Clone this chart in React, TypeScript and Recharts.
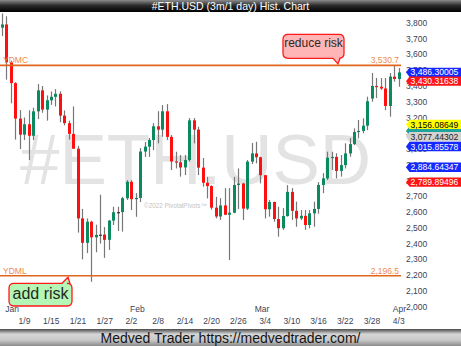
import React from "react";
import { ComposedChart, Bar, XAxis, YAxis, ReferenceLine } from "recharts";

// daily candles, 1/4 .. 4/3
const dates = [
  "1/4", "1/5", "1/6", "1/7", "1/8", "1/9", "1/10", "1/11", "1/12", "1/13", "1/14", "1/15", "1/16", "1/17",
  "1/18", "1/19", "1/20", "1/21", "1/22", "1/23", "1/24", "1/25", "1/26", "1/27", "1/28", "1/29", "1/30", "1/31",
  "2/1", "2/2", "2/3", "2/4", "2/5", "2/6", "2/7", "2/8", "2/9", "2/10", "2/11", "2/12", "2/13", "2/14",
  "2/15", "2/16", "2/17", "2/18", "2/19", "2/20", "2/21", "2/22", "2/23", "2/24", "2/25", "2/26", "2/27", "2/28",
  "3/1", "3/2", "3/3", "3/4", "3/5", "3/6", "3/7", "3/8", "3/9", "3/10", "3/11", "3/12", "3/13", "3/14",
  "3/15", "3/16", "3/17", "3/18", "3/19", "3/20", "3/21", "3/22", "3/23", "3/24", "3/25", "3/26", "3/27", "3/28",
  "3/29", "3/30", "3/31", "4/1", "4/2", "4/3",
];

const opens = [
  3770, 3790, 3550, 3418, 3193, 3091, 3157, 3084, 3239, 3372, 3250, 3309, 3331, 3350,
  3212, 3164, 3096, 3002, 2560, 2405, 2539, 2440, 2455, 2457, 2424, 2546, 2599, 2600,
  2688, 2792, 2682, 2690, 2984, 3015, 3057, 3144, 3123, 3239, 3077, 2921, 2916, 2883,
  2930, 3182, 3123, 2882, 2786, 2765, 2628, 2572, 2642, 2583, 2596, 2772, 2781, 2622,
  2920, 2972, 2948, 2834, 2618, 2664, 2556, 2498, 2575, 2728, 2608, 2560, 2576, 2518,
  2592, 2620, 2772, 2814, 2945, 2950, 2861, 2898, 2972, 3031, 3108, 3115, 3148, 3320,
  3400, 3395, 3384, 3273, 3459, 3444,
];
const highs = [
  3860, 3842, 3560, 3424, 3247, 3200, 3246, 3262, 3412, 3400, 3340, 3365, 3380, 3366,
  3245, 3180, 3270, 3020, 2620, 2560, 2545, 2520, 2710, 2505, 2550, 2634, 2634, 2697,
  2803, 2803, 2720, 3006, 3045, 3070, 3164, 3240, 3279, 3285, 3089, 2983, 2962, 2962,
  3196, 3196, 3141, 2943, 2824, 2770, 2697, 2688, 2752, 2752, 2824, 2877, 2786, 2930,
  3038, 3046, 2951, 2836, 2677, 2666, 2634, 2625, 2771, 2752, 2666, 2613, 2613, 2613,
  2666, 2790, 2847, 2983, 2983, 2973, 2962, 3036, 3070, 3131, 3184, 3195, 3332, 3482,
  3451, 3450, 3450, 3482, 3533, 3514,
];
const lows = [
  3716, 3440, 3290, 3060, 3000, 3057, 2930, 3057, 3190, 3230, 3180, 3280, 3270, 3170,
  3150, 3060, 3000, 2470, 2300, 2340, 2158, 2345, 2400, 2310, 2360, 2518, 2480, 2476,
  2677, 2613, 2570, 2664, 2950, 2950, 2994, 3036, 3078, 3057, 2867, 2877, 2825, 2835,
  2920, 3036, 2835, 2761, 2687, 2615, 2560, 2550, 2581, 2296, 2593, 2620, 2550, 2613,
  2905, 2909, 2782, 2560, 2571, 2539, 2444, 2487, 2571, 2550, 2507, 2550, 2487, 2497,
  2507, 2590, 2720, 2803, 2867, 2814, 2825, 2877, 2951, 3025, 3068, 3100, 3120, 3300,
  3323, 3375, 3247, 3205, 3427, 3395,
];
const closes = [
  3790, 3550, 3418, 3193, 3091, 3157, 3084, 3239, 3372, 3250, 3309, 3331, 3350, 3212,
  3164, 3096, 3002, 2560, 2405, 2539, 2440, 2455, 2457, 2424, 2546, 2599, 2600, 2688,
  2792, 2682, 2690, 2984, 3015, 3057, 3144, 3123, 3239, 3077, 2921, 2916, 2883, 2930,
  3182, 3123, 2882, 2786, 2765, 2628, 2572, 2642, 2583, 2596, 2772, 2781, 2622, 2920,
  2972, 2948, 2834, 2618, 2664, 2556, 2498, 2575, 2728, 2608, 2560, 2576, 2518, 2592,
  2620, 2772, 2814, 2945, 2950, 2861, 2898, 2972, 3031, 3108, 3115, 3148, 3303, 3400,
  3395, 3384, 3273, 3459, 3444, 3486,
];

const dayTicks = ["1/9", "1/15", "1/21", "1/27", "2/2", "2/8", "2/14", "2/20", "2/26", "3/4", "3/10", "3/16", "3/22", "3/28", "4/3"];
const monthStarts = ["1/4", "2/1", "3/1", "4/1"];
const monthNames = ["Jan", "Feb", "Mar", "Apr"];
const yTicks = [2000, 2100, 2200, 2300, 2400, 2500, 2600, 2700, 2800, 2900, 3000, 3100, 3200, 3300, 3400, 3500, 3600, 3700, 3800];

const YDMC = 3530.7;
const YDML = 2196.5;

// right-edge price flags (study values)
const tagValues = [3114.2, 3486.30005, 3430.31638, 3156.08649, 3077.44302, 3015.85578, 2884.64347, 2789.89496];
const tagLabels = ["", "3,486.30005", "3,430.31638", "3,156.08649", "3,077.44302", "3,015.85578", "2,884.64347", "2,789.89496"];
const tagBg = ["#1fa39a", "#1428ff", "#ff1414", "#ffff00", "#d2d2d2", "#1428ff", "#1428ff", "#ff1414"];
const tagFg = ["#fff", "#fff", "#fff", "#000", "#222", "#fff", "#fff", "#fff"];

const FONT = "'Liberation Sans', Arial, sans-serif";
const AXIS = "#3d3f55";
const UP = "#0b8a5e";
const DOWN = "#ff1010";
const WICK = "#777";
const LEVEL = "#e0661c";
const LEVEL_TXT = "#ef8a4c";
const DOMAIN: [number, number] = [1960, 3869];

const data = dates.map((d, i) => ({ date: d, o: opens[i], h: highs[i], l: lows[i], c: closes[i] }));

function Candle(props: any) {
  const { x, y, width, height, payload } = props;
  if (x == null || !payload) return null;
  const top = Math.min(y, y + height);
  const hh = Math.abs(height);
  const { o, h, l, c } = payload;
  const k = hh / (h - l);
  const cx = Math.round(x + width / 2) + 0.5;
  const bTop = top + (h - Math.max(o, c)) * k;
  const bBot = top + (h - Math.min(o, c)) * k;
  const up = c >= o;
  const fill = Math.abs(c - o) < 3 ? "#333" : up ? UP : DOWN;
  return (
    <g>
      <line x1={cx} x2={cx} y1={top} y2={top + hh} stroke={WICK} strokeWidth={1.2} />
      <rect x={cx - 1.5} y={bTop} width={3} height={Math.max(1.2, bBot - bTop)} fill={fill} />
    </g>
  );
}

function XTick(props: any) {
  const { x, y, payload } = props;
  const v = payload.value;
  const mi = monthStarts.indexOf(v);
  const showDay = dayTicks.includes(v);
  if (mi < 0 && !showDay) return <g />;
  return (
    <g fontFamily={FONT} fontSize={8.5} fill={AXIS}>
      {mi >= 0 && (
        <text x={x + 3} y={y - 1} textAnchor="start">
          {monthNames[mi]}
        </text>
      )}
      {showDay && (
        <text x={x} y={y + 10.5} textAnchor="middle">
          {v}
        </text>
      )}
    </g>
  );
}

function calloutPath(x: number, y: number, w: number, h: number, r: number, t1: number, t2: number, tx: number, ty: number, bottom: boolean) {
  if (bottom) {
    return `M${x + r},${y} H${x + w - r} Q${x + w},${y} ${x + w},${y + r} V${y + h - r} Q${x + w},${y + h} ${x + w - r},${y + h} H${t2} L${tx},${ty} L${t1},${y + h} H${x + r} Q${x},${y + h} ${x},${y + h - r} V${y + r} Q${x},${y} ${x + r},${y} Z`;
  }
  return `M${x + r},${y} H${t1} L${tx},${ty} L${t2},${y} H${x + w - r} Q${x + w},${y} ${x + w},${y + r} V${y + h - r} Q${x + w},${y + h} ${x + w - r},${y + h} H${x + r} Q${x},${y + h} ${x},${y + h - r} V${y + r} Q${x},${y} ${x + r},${y} Z`;
}

function LevelLabel(props: any) {
  const { viewBox, name, value, note } = props;
  const { x, y, width } = viewBox;
  const r = x + width;
  const txt = value.toLocaleString("en-US", { minimumFractionDigits: 1 });
  let box = null;
  if (note === "reduce risk") {
    const bx = r - 118;
    const by = y - 31;
    box = (
      <g>
        <path d={calloutPath(bx, by, 61, 24, 5, bx + 50, bx + 57, bx + 55, y - 1.5, true)} fill="#ffb5b5" stroke="#ff1a1a" strokeWidth={1.3} />
        <text x={bx + 30.5} y={y - 18} textAnchor="middle" fontSize={12} fill="#2a2a2a" fontFamily={FONT}>
          {note}
        </text>
      </g>
    );
  } else if (note) {
    const bx = x + 9;
    const by = y + 7.6;
    box = (
      <g>
        <path d={calloutPath(bx, by, 63, 22.7, 5, bx + 53, bx + 61, bx + 59, y + 1.5, false)} fill="#b5f5b5" stroke="#ff1a1a" strokeWidth={1.3} />
        <text x={bx + 31.5} y={y + 23.6} textAnchor="middle" fontSize={16} fill="#1f2a1f" fontFamily={FONT}>
          {note}
        </text>
      </g>
    );
  }
  return (
    <g>
      <text x={x + 3} y={y - 2} fontSize={8.5} fill={LEVEL_TXT} fontFamily={FONT}>
        {name}
      </text>
      <text x={r - 2} y={y - 2} textAnchor="end" fontSize={8.5} fill={LEVEL_TXT} fontFamily={FONT}>
        {txt}
      </text>
      {box}
    </g>
  );
}

function PriceTag(props: any) {
  const { viewBox, i } = props;
  const r = viewBox.x + viewBox.width;
  const yc = viewBox.y;
  const pts = `${r + 5},${yc} ${r + 8.5},${yc - 4.7} ${r + 60},${yc - 4.7} ${r + 60},${yc + 4.7} ${r + 8.5},${yc + 4.7}`;
  return (
    <g>
      <polygon points={pts} fill={tagBg[i]} />
      <text x={r + 9.5} y={yc + 3.1} fontSize={8.6} fill={tagFg[i]} fontFamily={FONT}>
        {tagLabels[i]}
      </text>
    </g>
  );
}

export default function App() {
  return (
    <div style={{ position: "fixed", left: 0, top: 0, width: 461, height: 346, background: "#fff", overflow: "hidden", fontFamily: FONT }}>
      <div
        style={{
          position: "absolute", left: 0, top: 0, width: 461, height: 12,
          background: "linear-gradient(#8c8c8c, #2c2c2c 45%, #000)",
          color: "#fff", fontSize: 10.5, lineHeight: "12px", textAlign: "center",
        }}
      >
        #ETH.USD (3m/1 day) Hist. Chart
      </div>
      <svg width={461} height={346} style={{ position: "absolute", left: 0, top: 0 }}>
        <text x={20} y={184} fontSize={71} fill="#e3e3e3" fontFamily={FONT}>
          #ETH.USD
        </text>
        <text x={144} y={207.5} fontSize={6.3} fill="#c4c4c4" fontFamily={FONT}>
          ©2022 PivotalPivots™
        </text>
      </svg>
      <div style={{ position: "absolute", left: 0, top: 12 }}>
        <ComposedChart width={461} height={317} data={data} margin={{ top: 0, right: 0, bottom: 0, left: 0 }} barCategoryGap={0}>
          <XAxis
            dataKey="date"
            interval={0}
            tick={<XTick />}
            tickLine={false}
            axisLine={false}
            tickSize={0}
            tickMargin={0}
            height={16}
          />
          <YAxis
            orientation="right"
            domain={DOMAIN}
            allowDataOverflow
            ticks={yTicks}
            width={60}
            tickLine={false}
            axisLine={false}
            tickSize={4}
            tickMargin={1}
            tick={{ fontSize: 8.5, fill: AXIS, fontFamily: FONT }}
            tickFormatter={(v: number) => v.toLocaleString("en-US")}
          />
          <Bar dataKey={(d: any) => [d.l, d.h]} shape={<Candle />} isAnimationActive={false} />
          <ReferenceLine y={YDMC} stroke={LEVEL} strokeWidth={1.6} label={<LevelLabel name="YDMC" value={YDMC} note="reduce risk" />} />
          <ReferenceLine y={YDML} stroke={LEVEL} strokeWidth={1.6} label={<LevelLabel name="YDML" value={YDML} note="add risk" />} />
        </ComposedChart>
      </div>
      {/* flags sit above the axis labels, same scale on an overlay chart */}
      <div style={{ position: "absolute", left: 0, top: 12 }}>
        <ComposedChart width={461} height={317} data={data} margin={{ top: 0, right: 0, bottom: 0, left: 0 }}>
          <XAxis dataKey="date" tick={false} tickLine={false} axisLine={false} height={16} />
          <YAxis orientation="right" domain={DOMAIN} allowDataOverflow width={60} tick={false} tickLine={false} axisLine={false} />
          {tagValues.map((v, i) => (
            <ReferenceLine key={i} y={v} stroke="none" label={<PriceTag i={i} />} />
          ))}
        </ComposedChart>
      </div>
      <div
        style={{
          position: "absolute", left: 0, top: 329, width: 461, height: 17,
          background: "linear-gradient(#4a4a4a, #d6d6d6 30%, #c9c9c9 65%, #8a8a8a)",
          color: "#151515", fontSize: 14, lineHeight: "18px", textAlign: "center",
        }}
      >
        Medved Trader https://medvedtrader.com/
      </div>
    </div>
  );
}
